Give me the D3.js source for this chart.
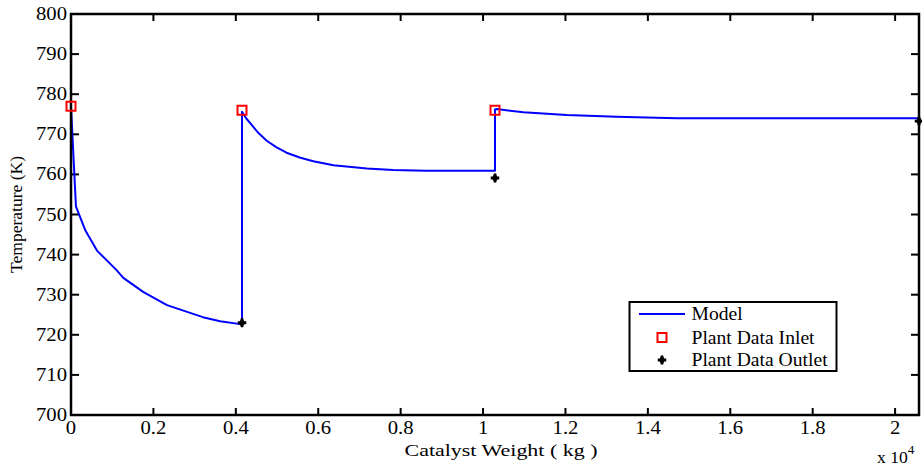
<!DOCTYPE html>
<html>
<head>
<meta charset="utf-8">
<script src="https://cdn.jsdelivr.net/npm/d3@7"></script>
<style>
body{margin:0;background:#fff;}
svg text{fill:#000;font-family:'Liberation Serif','Times New Roman',serif;}
</style>
</head>
<body>
<svg id="chart" width="922" height="467"></svg>
<script>
// model curve (x in 1e4 kg, T in K)
var model_x = [0, 0.012, 0.035, 0.063, 0.11, 0.127, 0.175, 0.233, 0.32, 0.362, 0.415,
	0.415, 0.425, 0.438, 0.455, 0.475, 0.498, 0.523, 0.555, 0.588, 0.637, 0.718, 0.782, 0.863, 1.029,
	1.029, 1.033, 1.098, 1.203, 1.324, 1.47, 2.058];
var model_t = [777, 752, 746, 741, 736.2, 734.2, 730.7, 727.4, 724.4, 723.4, 722.6,
	775.6, 774.0, 772.4, 770.3, 768.4, 766.8, 765.4, 764.2, 763.3, 762.3, 761.5, 761.1, 760.9, 760.9,
	776.2, 776.3, 775.5, 774.8, 774.4, 774.0, 774.0];
// plant data
var inlet_x = [0, 0.415, 1.029];
var inlet_t = [777, 776, 776];
var outlet_x = [0.415, 1.029, 2.058];
var outlet_t = [723, 759.1, 773.3];
// ticks
var x_ticks = [0, 0.2, 0.4, 0.6, 0.8, 1, 1.2, 1.4, 1.6, 1.8, 2];
var y_ticks = [700, 710, 720, 730, 740, 750, 760, 770, 780, 790, 800];
var legend_labels = ["Model", "Plant Data Inlet", "Plant Data Outlet"];

var svg = d3.select("#chart");
var m = {left:71, right:919, top:14, bottom:415};
var x = d3.scaleLinear().domain([0, 2.058]).range([m.left, m.right]);
var y = d3.scaleLinear().domain([700, 800]).range([m.bottom, m.top]);
var tick_len = 7;

// 橫向拉寬的文字
var stext = function(parent, px, py, sx, size, anchor, txt){
	return parent.append("text")
		.attr("transform","translate("+px+","+py+") scale("+sx+",1)")
		.attr("text-anchor",anchor)
		.style("font-size",size+"px")
		.text(txt);
};

// 軸刻度 (inside)
var g = svg.append("g");
g.selectAll(".xtb").data(x_ticks).enter().append("line")
	.attr("x1",d=>x(d)).attr("x2",d=>x(d))
	.attr("y1",m.bottom).attr("y2",m.bottom-tick_len)
	.attr("stroke","#000").attr("stroke-width",2);
g.selectAll(".xtt").data(x_ticks).enter().append("line")
	.attr("x1",d=>x(d)).attr("x2",d=>x(d))
	.attr("y1",m.top).attr("y2",m.top+tick_len)
	.attr("stroke","#000").attr("stroke-width",2);
g.selectAll(".ytl").data(y_ticks).enter().append("line")
	.attr("y1",d=>y(d)).attr("y2",d=>y(d))
	.attr("x1",m.left).attr("x2",m.left+tick_len+1)
	.attr("stroke","#000").attr("stroke-width",2);
g.selectAll(".ytr").data(y_ticks).enter().append("line")
	.attr("y1",d=>y(d)).attr("y2",d=>y(d))
	.attr("x1",m.right).attr("x2",m.right-tick_len-1)
	.attr("stroke","#000").attr("stroke-width",2);

x_ticks.forEach(function(d){
	stext(g, x(d), m.bottom+19, 1.15, 18, "middle", String(d));
});
y_ticks.forEach(function(d){
	stext(g, m.left-4, y(d)+6, 1.15, 18, "end", String(d));
});

// 曲線
var line = d3.line().x(d=>x(d[0])).y(d=>y(d[1]));
svg.append("path")
	.datum(model_x.map((v,i)=>[v, model_t[i]]))
	.attr("d", line)
	.attr("fill","none").attr("stroke","#0000ff").attr("stroke-width",2)
	.attr("stroke-linejoin","round");

// 外框
svg.append("rect")
	.attr("x",m.left).attr("y",m.top)
	.attr("width",m.right-m.left).attr("height",m.bottom-m.top)
	.attr("fill","none").attr("stroke","#000").attr("stroke-width",2.5);

// inlet markers
svg.selectAll(".inl").data(inlet_x).enter().append("rect")
	.attr("x",(d)=>x(d)-4.5).attr("y",(d,i)=>y(inlet_t[i])-4.5)
	.attr("width",9).attr("height",9)
	.attr("fill","none").attr("stroke","#ff0000").attr("stroke-width",2);

// outlet markers
var star = function(sel){
	sel.append("path").attr("d", d3.symbol(d3.symbolCross).size(40)())
		.attr("fill","#000");
	sel.append("path").attr("d", d3.symbol(d3.symbolDiamond).size(32)())
		.attr("fill","#000");
};
svg.selectAll(".outl").data(outlet_x).enter().append("g")
	.attr("transform",(d,i)=>"translate("+x(d)+","+y(outlet_t[i])+")")
	.call(star);

// 軸標題
svg.append("text")
	.attr("transform","translate(22,214.5) rotate(-90)")
	.attr("text-anchor","middle")
	.attr("textLength",117).attr("lengthAdjust","spacingAndGlyphs")
	.style("font-size","17px")
	.text("Temperature (K)");
svg.append("text")
	.attr("x",501).attr("y",456)
	.attr("text-anchor","middle")
	.attr("textLength",193).attr("lengthAdjust","spacingAndGlyphs")
	.style("font-size","17px")
	.text("Catalyst Weight ( kg )");
var ex = svg.append("text").attr("transform","translate(877,463) scale(1.1,1)")
	.style("font-size","16px");
ex.append("tspan").text("x 10");
ex.append("tspan").attr("dy",-9).style("font-size","12px").text("4");

// 圖例
var lg = svg.append("g");
lg.append("rect")
	.attr("x",629.5).attr("y",302).attr("width",207).attr("height",69)
	.attr("fill","#fff").attr("stroke","#000").attr("stroke-width",2);
var rows = [314, 337.5, 360];
lg.append("line").attr("x1",639).attr("x2",685).attr("y1",rows[0]).attr("y2",rows[0])
	.attr("stroke","#0000ff").attr("stroke-width",2);
lg.append("rect").attr("x",662-4.5).attr("y",rows[1]-4.5).attr("width",9).attr("height",9)
	.attr("fill","none").attr("stroke","#ff0000").attr("stroke-width",2);
lg.append("g").attr("transform","translate(662,"+rows[2]+")").call(star);
legend_labels.forEach(function(d,i){
	stext(lg, 691.5, rows[i]+6, 1.09, 18, "start", d);
});
</script>
</body>
</html>
